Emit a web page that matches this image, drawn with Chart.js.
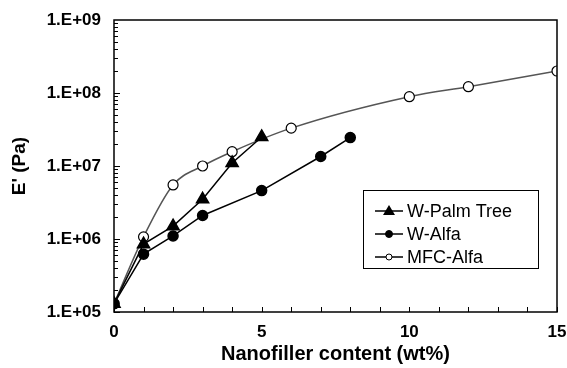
<!DOCTYPE html>
<html>
<head>
<meta charset="utf-8">
<script src="https://cdn.jsdelivr.net/npm/chart.js@4/dist/chart.umd.min.js"></script>
<style>
  html, body { margin: 0; padding: 0; background: #fff; }
  #wrap { width: 567px; height: 368px; }
</style>
</head>
<body>
<div id="wrap"><canvas id="myChart" width="567" height="368"></canvas></div>
<script>
// data
var seriesNames = ['W-Palm Tree', 'W-Alfa', 'MFC-Alfa'];

var palmX = [0, 1, 2, 3, 4, 5];
var palmY = [1.3e5, 8.5e5, 1.5e6, 3.5e6, 1.1e7, 2.5e7];

var alfaX = [0, 1, 2, 3, 5, 7, 8];
var alfaY = [1.3e5, 6.2e5, 1.1e6, 2.1e6, 4.6e6, 1.35e7, 2.45e7];

var mfcX = [0, 1, 2, 3, 4, 6, 10, 12, 15];
var mfcY = [1.3e5, 1.07e6, 5.5e6, 1.0e7, 1.57e7, 3.3e7, 8.9e7, 1.22e8, 2.0e8];

var xTicks = [0, 5, 10, 15];
var yTicks = [1e5, 1e6, 1e7, 1e8, 1e9];

var FONT = '"Liberation Sans", Arial, Helvetica, sans-serif';

function toPoints(xs, ys) {
  return xs.map(function(x, i) { return { x: x, y: ys[i] }; });
}

// inward ticks + frame
var framePlugin = {
  id: 'frame',
  afterDraw: function(chart) {
    var ctx = chart.ctx;
    var a = chart.chartArea;
    var xs = chart.scales.x, ys = chart.scales.y;
    ctx.save();
    ctx.strokeStyle = '#000';
    ctx.lineWidth = 1.5;
    ctx.strokeRect(a.left, a.top, a.right - a.left, a.bottom - a.top);
    ctx.lineWidth = 1;
    ctx.beginPath();
    for (var i = 0; i <= 15; i++) {
      var px = Math.round(xs.getPixelForValue(i)) + 0.5;
      ctx.moveTo(px, a.bottom);
      ctx.lineTo(px, a.bottom - 5);
    }
    for (var d = 5; d < 9; d++) {
      for (var m = 1; m <= 9; m++) {
        var py = Math.round(ys.getPixelForValue(m * Math.pow(10, d))) + 0.5;
        ctx.moveTo(a.left, py);
        ctx.lineTo(a.left + (m == 1 ? 6 : 4), py);
      }
    }
    ctx.stroke();
    ctx.restore();
  }
};

// legend box drawn like the original
var legendPlugin = {
  id: 'boxLegend',
  afterDraw: function(chart) {
    var ctx = chart.ctx;
    var a = chart.chartArea;
    var left = a.right - 194, top = 190, w = 175, h = 78;
    ctx.save();
    ctx.fillStyle = '#fff';
    ctx.fillRect(left, top, w, h);
    ctx.strokeStyle = '#000';
    ctx.lineWidth = 1;
    ctx.strokeRect(left + 0.5, top + 0.5, w, h);
    ctx.font = '18px ' + FONT;
    ctx.textBaseline = 'middle';
    var rows = [211, 234, 257];
    chart.data.datasets.forEach(function(ds, i) {
      var y = rows[i];
      ctx.strokeStyle = '#000';
      ctx.lineWidth = 1.5;
      ctx.beginPath();
      ctx.moveTo(left + 12, y);
      ctx.lineTo(left + 40, y);
      ctx.stroke();
      ctx.beginPath();
      var cx = left + 26;
      if (ds.pointStyle == 'triangle') {
        ctx.moveTo(cx, y - 6);
        ctx.lineTo(cx + 6, y + 4);
        ctx.lineTo(cx - 6, y + 4);
        ctx.closePath();
        ctx.fillStyle = '#000';
        ctx.fill();
      } else {
        ctx.arc(cx, y, ds.label == 'W-Alfa' ? 3.5 : 3, 0, Math.PI * 2);
        ctx.fillStyle = ds.pointBackgroundColor;
        ctx.fill();
        ctx.lineWidth = 1;
        ctx.stroke();
      }
      ctx.fillStyle = '#000';
      ctx.fillText(ds.label, left + 44, y + 1);
    });
    ctx.restore();
  }
};

var ctx = document.getElementById('myChart');
var myChart = new Chart(ctx, {
  type: 'line',
  data: {
    datasets: [{
      label: seriesNames[0],
      data: toPoints(palmX, palmY),
      borderColor: '#000',
      borderWidth: 1.5,
      pointStyle: 'triangle',
      pointRadius: 7,
      pointBackgroundColor: '#000',
      pointBorderColor: '#000',
      tension: 0
    }, {
      label: seriesNames[1],
      data: toPoints(alfaX, alfaY),
      borderColor: '#000',
      borderWidth: 1.5,
      pointStyle: 'circle',
      pointRadius: 5,
      pointBackgroundColor: '#000',
      pointBorderColor: '#000',
      tension: 0
    }, {
      label: seriesNames[2],
      data: toPoints(mfcX, mfcY),
      borderColor: '#555',
      borderWidth: 1.5,
      pointStyle: 'circle',
      pointRadius: 5,
      pointBackgroundColor: '#fff',
      pointBorderColor: '#000',
      pointBorderWidth: 1.2,
      cubicInterpolationMode: 'monotone'
    }]
  },
  options: {
    responsive: false,
    animation: false,
    layout: { padding: { top: 20, right: 10, left: 0, bottom: 0 } },
    plugins: {
      legend: { display: false },
      tooltip: { enabled: false }
    },
    scales: {
      x: {
        type: 'linear',
        min: 0,
        max: 15,
        afterBuildTicks: function(scale) {
          scale.ticks = xTicks.map(function(v) { return { value: v }; });
        },
        afterFit: function(scale) {
          scale.height = 56;
          scale.paddingLeft = 0;
          scale.paddingRight = 0;
        },
        grid: { display: false, drawTicks: false },
        border: { display: false },
        ticks: { color: '#000', padding: 10, font: { family: FONT, size: 17, weight: 'bold' } },
        title: {
          display: true,
          text: 'Nanofiller content (wt%)',
          color: '#000',
          padding: { top: 0, bottom: 2 },
          font: { family: FONT, size: 20, weight: 'bold' }
        }
      },
      y: {
        type: 'logarithmic',
        min: 1e5,
        max: 1e9,
        afterBuildTicks: function(scale) {
          scale.ticks = yTicks.map(function(v) { return { value: v }; });
        },
        afterFit: function(scale) {
          scale.width = 114;
          scale.paddingTop = 0;
          scale.paddingBottom = 0;
        },
        grid: { display: false, drawTicks: false },
        border: { display: false },
        ticks: {
          color: '#000',
          padding: 13,
          font: { family: FONT, size: 17, weight: 'bold' },
          callback: function(v) {
            var e = Math.round(Math.log10(v));
            return '1.E+' + (e < 10 ? '0' : '') + e;
          }
        },
        title: {
          display: true,
          text: "E' (Pa)",
          color: '#000',
          padding: { top: 8, bottom: 0 },
          font: { family: FONT, size: 19, weight: 'bold' }
        }
      }
    }
  },
  plugins: [framePlugin, legendPlugin]
});
</script>
</body>
</html>
